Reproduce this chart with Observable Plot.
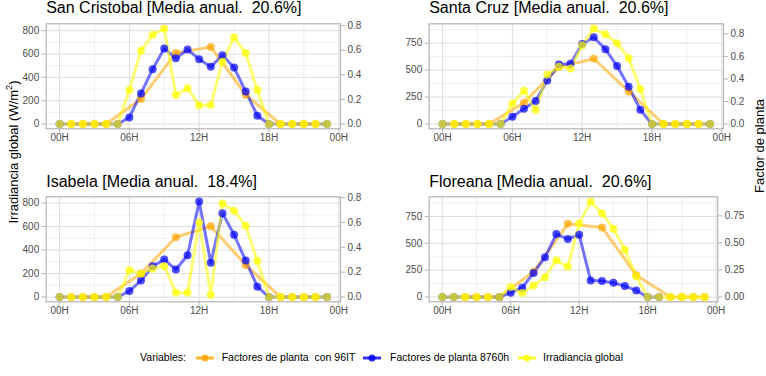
<!DOCTYPE html>
<html><head><meta charset="utf-8">
<script src="https://cdn.jsdelivr.net/npm/d3@7"></script>
<script src="https://cdn.jsdelivr.net/npm/@observablehq/plot@0.6"></script>
<style>
body{margin:0;background:#fff;}
#root{position:relative;width:766px;height:376px;font-family:"Liberation Sans",Arial,sans-serif;overflow:hidden;background:#fff}
.pnl{position:absolute}
svg text{white-space:pre}
.lab{position:absolute;white-space:pre;color:#000;line-height:1}
</style></head><body><div id="root"></div>
<script>
// ---- data ----
const hours = d3.range(24);
const panelNames = ["San Cristobal", "Santa Cruz", "Isabela", "Floreana"];
const mediaAnual = ["20.6%", "20.6%", "18.4%", "20.6%"];
const seriesNames = ["Factores de planta  con 96IT", "Factores de planta 8760h", "Irradiancia global"];
const seriesColors = ["#FFA500", "#0000FF", "#FFFF00"];
const n = null;

// Irradiancia global (W/m2), by hour 0..23
const irrSanCristobal = [0,0,0,0,0,0,291,629,766,818,249,306,160,163,534,743,609,291,0,0,0,0,0,0];
const irrSantaCruz    = [0,0,0,0,0,0,191,308,129,456,530,515,730,885,832,749,610,324,0,0,0,0,0,0];
const irrIsabela      = [0,0,0,0,0,0,228,199,242,265,37,37,635,17,797,735,606,307,0,0,0,0,0,0];
const irrFloreana     = [0,0,0,0,0,0,93,37,108,185,343,281,684,889,781,636,441,194,0,0,0,0,0,0];

// Factores de planta 8760h (fraction)
const fp8760SanCristobal = [0,n,n,n,n,0,0.054,0.249,0.446,0.614,0.535,0.605,0.527,0.465,0.559,0.459,0.265,0.068,0,n,n,n,n,0];
const fp8760SantaCruz    = [0,n,n,n,n,0,0.065,0.136,0.204,0.387,0.528,0.534,0.711,0.770,0.664,0.514,0.331,0.127,0,n,n,n,n,0];
const fp8760Isabela      = [0,n,n,n,n,0,0.048,0.133,0.248,0.301,0.221,0.336,0.768,0.275,0.675,0.501,0.293,0.083,0,n,n,n,n,0];
const fp8760Floreana     = [0,0,n,n,n,0,0.040,0.086,0.223,0.367,0.582,0.536,0.575,0.153,0.147,0.132,0.101,0.061,0,0,n,n,n,n];

// Factores de planta con 96IT (fraction)
const fp96SanCristobal = [n,0,0,0,0,n,n,0.203,n,n,0.578,n,n,0.627,n,n,0.238,n,n,0,0,0,0,n];
const fp96SantaCruz    = [n,0,0,0,0,n,n,0.189,n,n,0.505,n,n,0.579,n,n,0.289,n,n,0,0,0,0,n];
const fp96Isabela      = [n,0,0,0,0,n,n,0.189,n,n,0.481,n,n,0.570,n,n,0.257,n,n,0,0,0,0,n];
const fp96Floreana     = [n,n,0,0,0,0,n,n,0.233,n,n,0.676,n,n,0.643,n,n,0.202,n,n,0,0,0,0];

// secondary axis ratio (W/m2 per unit of factor)
const secRatio = [1054, 1045, 1058, 1008];

// tick labels
const xTicks = [0, 6, 12, 18, 24];
const xMinor = [3, 9, 15, 21];
const leftTicks = [[0,200,400,600,800],[0,250,500,750],[0,200,400,600,800],[0,250,500,750]];
const leftMinor = [[100,300,500,700],[125,375,625,875],[100,300,500,700],[125,375,625,875]];
const rightTicks = [[0,0.2,0.4,0.6,0.8],[0,0.2,0.4,0.6,0.8],[0,0.2,0.4,0.6,0.8],[0,0.25,0.5,0.75]];
const rightDecimals = [1, 1, 1, 2];

const irr = [irrSanCristobal, irrSantaCruz, irrIsabela, irrFloreana];
const fp8760 = [fp8760SanCristobal, fp8760SantaCruz, fp8760Isabela, fp8760Floreana];
const fp96 = [fp96SanCristobal, fp96SantaCruz, fp96Isabela, fp96Floreana];

// ---- layout ----
const layout = [
  {left: 0, top: 0, mr: 43},
  {left: 383, top: 0, mr: 43},
  {left: 0, top: 173.2, mr: 43},
  {left: 383, top: 173.2, mr: 48.7}
];

const root = document.getElementById("root");
const FONT = '"Liberation Sans", Arial, sans-serif';

panelNames.forEach((name, i) => {
  const k = secRatio[i];
  const rows = (arr, scale, s) => hours
    .map(h => ({hour: h, v: arr[h] == null ? null : arr[h] * scale, s}))
    .filter(d => d.v != null);
  const sOrange = rows(fp96[i], k, 0);
  const sBlue = rows(fp8760[i], k, 1);
  const sYellow = rows(irr[i], 1, 2);
  const all = [...sOrange, ...sBlue, ...sYellow];
  const M = d3.max(all, d => d.v);
  const series = [sOrange, sBlue, sYellow];
  const gridStyle = {stroke: "#DEDEDE", strokeOpacity: 1};
  const chart = Plot.plot({
    width: 383, height: 150,
    marginTop: 23.3, marginBottom: 21.7, marginLeft: 45.7, marginRight: layout[i].mr,
    x: {domain: [-1.15, 24.15], label: null},
    y: {domain: [-0.05 * M, 1.05 * M], label: null},
    style: {fontFamily: FONT, fontSize: "10px", background: "transparent", overflow: "visible"},
    marks: [
      Plot.gridX(xMinor, {...gridStyle, strokeWidth: 0.5}),
      Plot.gridX(xTicks, {...gridStyle, strokeWidth: 1}),
      Plot.gridY(leftMinor[i], {...gridStyle, strokeWidth: 0.5}),
      Plot.gridY(leftTicks[i], {...gridStyle, strokeWidth: 1}),
      ...series.map((d, j) => Plot.line(d, {x: "hour", y: "v", stroke: seriesColors[j], strokeWidth: 3, strokeOpacity: 0.55})),
      ...series.map((d, j) => Plot.dot(d, {x: "hour", y: "v", r: 4, fill: seriesColors[j], fillOpacity: 0.7, stroke: "none"})),
      Plot.frame({stroke: "#B3B3B3", strokeWidth: 1.2}),
      Plot.axisX(xTicks, {anchor: "bottom", label: null, tickSize: 4, tickPadding: 1.5, stroke: "#B3B3B3", fill: "#4D4D4D",
        tickFormat: d => String(d % 24).padStart(2, "0") + "H"}),
      Plot.axisY(leftTicks[i], {anchor: "left", label: null, tickSize: 4, tickPadding: 3, stroke: "#B3B3B3", fill: "#4D4D4D",
        tickFormat: d => String(d)}),
      Plot.axisY(rightTicks[i].map(t => t * k), {anchor: "right", label: null, tickSize: 4, tickPadding: 3, stroke: "#B3B3B3", fill: "#4D4D4D",
        tickFormat: d => (d / k).toFixed(rightDecimals[i])}),
      Plot.text([`${name} [Media anual.  ${mediaAnual[i]}]`], {text: d => d, frameAnchor: "top-left", textAnchor: "start",
        lineAnchor: "bottom", dy: -10.3, fontSize: 16, fill: "#000"})
    ]
  });
  chart.classList.add("pnl");
  chart.style.left = layout[i].left + "px";
  chart.style.top = layout[i].top + "px";
  root.appendChild(chart);
});

// axis titles
function label(html, x, y, size, rotate) {
  const d = document.createElement("div");
  d.className = "lab";
  d.innerHTML = html;
  d.style.left = x + "px";
  d.style.top = y + "px";
  d.style.fontSize = size + "px";
  d.style.transform = `translate(-50%,-50%)${rotate ? " rotate(-90deg)" : ""}`;
  root.appendChild(d);
  return d;
}
label('Irradiancia global (W/m<sup style="font-size:0.7em;vertical-align:0.6em;line-height:0">2</sup>)', 13, 151.5, 13, true);
label("Factor de planta", 759, 146, 13, true);

// legend
const legendY = 357.7;
const vl = document.createElement("div");
vl.className = "lab";
vl.textContent = "Variables:";
vl.style.fontSize = "10.5px";
vl.style.right = (766 - 186) + "px";
vl.style.top = (legendY - 5.5) + "px";
root.appendChild(vl);
const keyCenters = [205, 372, 527];
const textLefts = [221.7, 390, 543];
seriesNames.forEach((s, j) => {
  const svg = d3.create("svg").attr("width", 18).attr("height", 12)
    .style("position", "absolute").style("left", (keyCenters[j] - 9) + "px").style("top", (legendY - 6) + "px");
  svg.append("line").attr("x1", 0).attr("x2", 18).attr("y1", 6).attr("y2", 6)
    .attr("stroke", seriesColors[j]).attr("stroke-width", 3).attr("stroke-opacity", 0.8);
  svg.append("circle").attr("cx", 9).attr("cy", 6).attr("r", 3.5).attr("fill", seriesColors[j]).attr("fill-opacity", 0.85);
  root.appendChild(svg.node());
  const t = document.createElement("div");
  t.className = "lab";
  t.textContent = s;
  t.style.fontSize = "10.5px";
  t.style.left = textLefts[j] + "px";
  t.style.top = (legendY - 5.5) + "px";
  root.appendChild(t);
});
</script></body></html>
